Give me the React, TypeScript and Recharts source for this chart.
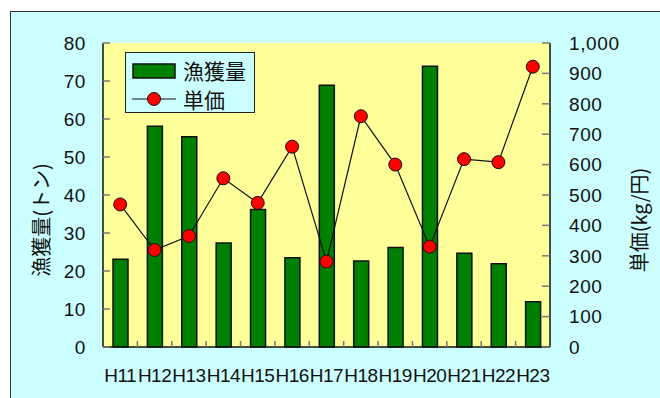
import React from 'react';
import { ComposedChart, Bar, Line, XAxis, YAxis, CartesianGrid, Legend } from 'recharts';

// 年度別の漁獲量（トン）と単価（円/kg）
const years = ['H11', 'H12', 'H13', 'H14', 'H15', 'H16', 'H17', 'H18', 'H19', 'H20', 'H21', 'H22', 'H23'];
const catchTons = [23.1, 58.1, 55.3, 27.4, 36.2, 23.5, 68.9, 22.6, 26.2, 73.9, 24.7, 21.9, 11.9];
const unitPrice = [469, 319, 365, 555, 474, 659, 281, 759, 600, 330, 618, 608, 922];
const leftTicks = [0, 10, 20, 30, 40, 50, 60, 70, 80];
const rightTicks = [0, 100, 200, 300, 400, 500, 600, 700, 800, 900, 1000];

const data = years.map((year, i) => ({ year, catch: catchTons[i], price: unitPrice[i] }));

const FONT = '"Liberation Sans", Arial, sans-serif';
const JP_FONT = '"Noto Sans CJK JP", sans-serif';
const tickStyle = { fill: '#111', fontSize: 19, fontFamily: FONT };
const X_TICK_MARGIN = 21;

const LegendBox = () => (
  <div
    style={{
      width: 128,
      height: 59,
      background: '#CCFFFF',
      border: '1.5px solid #222',
      fontFamily: JP_FONT,
      fontSize: 21,
      color: '#111',
      position: 'relative',
    }}
  >
    <svg width={50} height={59} style={{ position: 'absolute', left: 0, top: 0 }}>
      <rect x={7} y={11} width={42} height={14} fill="#008000" stroke="#111" strokeWidth={1.5} />
      <line x1={6} y1={46} x2={50} y2={46} stroke="#111" strokeWidth={1.2} />
      <circle cx={28} cy={46} r={6.5} fill="#FF0000" stroke="#111" strokeWidth={1} />
    </svg>
    <div style={{ position: 'absolute', left: 57, top: 2, lineHeight: '30px' }}>漁獲量</div>
    <div style={{ position: 'absolute', left: 57, top: 31, lineHeight: '30px' }}>単価</div>
  </div>
);

// year label at the band centre, short inward tick at the band's left edge
const YearTick = (props: any) => {
  const { x, y, width, index, payload } = props;
  const band = width / years.length;
  const axisY = y - X_TICK_MARGIN;
  return (
    <g>
      {index > 0 && (
        <line x1={x - band / 2} x2={x - band / 2} y1={axisY} y2={axisY - 6} stroke="#777" strokeWidth={1.5} />
      )}
      <text
        x={x}
        y={y}
        textAnchor="middle"
        dominantBaseline="hanging"
        fontFamily={FONT}
        fontSize={19}
        letterSpacing={-0.5}
        fill="#111"
      >
        {payload.value}
      </text>
    </g>
  );
};

const axisTitle = (text: string, dx: number) => (props: any) => {
  const { x, y, height } = props.viewBox;
  const cx = x + dx;
  const cy = y + height / 2 + 25;
  return (
    <text
      x={cx}
      y={cy}
      transform={`rotate(-90 ${cx} ${cy})`}
      textAnchor="middle"
      dominantBaseline="central"
      fontFamily={JP_FONT}
      fontSize={20}
      fill="#111"
    >
      {text}
    </text>
  );
};

export default function App() {
  return (
    <div style={{ position: 'fixed', left: 0, top: 0, width: 660, height: 398, background: '#fff', overflow: 'hidden' }}>
      <div
        style={{
          position: 'absolute',
          left: 10,
          top: 11,
          width: 660,
          height: 398,
          background: '#CCFFFF',
          borderLeft: '1.5px solid #333',
          borderTop: '1.5px solid #333',
        }}
      />
      <div style={{ position: 'absolute', left: 0, top: 0 }}>
        <ComposedChart width={660} height={398} data={data} margin={{ top: 43, right: 0, bottom: 0, left: 0 }}>
          <CartesianGrid horizontal={false} vertical={false} fill="#FFFF99" xAxisId="cat" yAxisId="left" />
          <XAxis
            xAxisId="cat"
            dataKey="year"
            height={51}
            interval={0}
            tickLine={false}
            tickSize={0}
            tickMargin={X_TICK_MARGIN}
            axisLine={{ stroke: '#111', strokeWidth: 1.5 }}
            tick={<YearTick />}
          />
          <XAxis
            xAxisId="top"
            orientation="top"
            dataKey="year"
            height={0}
            tick={false}
            tickLine={false}
            axisLine={{ stroke: '#111', strokeWidth: 1.5 }}
          />
          <YAxis
            yAxisId="left"
            width={103}
            domain={[0, 80]}
            ticks={leftTicks}
            interval={0}
            tickSize={-7}
            tickMargin={24}
            tickLine={{ stroke: '#777', strokeWidth: 1.5 }}
            axisLine={{ stroke: '#111', strokeWidth: 1.5 }}
            tick={{ ...tickStyle, letterSpacing: 0.6 }}
            label={{ content: axisTitle('漁獲量(トン)', 40) }}
          />
          <YAxis
            yAxisId="right"
            orientation="right"
            width={110}
            domain={[0, 1000]}
            ticks={rightTicks}
            interval={0}
            tickSize={-8}
            tickMargin={27}
            tickFormatter={(v: number) => v.toLocaleString('en-US')}
            tickLine={{ stroke: '#777', strokeWidth: 1.5 }}
            axisLine={{ stroke: '#111', strokeWidth: 1.5 }}
            tick={{ ...tickStyle, letterSpacing: 0.6 }}
            label={{ content: axisTitle('単価(kg/円)', 88) }}
          />
          <Legend
            layout="horizontal"
            align="center"
            verticalAlign="middle"
            wrapperStyle={{ position: 'absolute', left: 125, top: 52, width: 'auto' }}
            content={() => <LegendBox />}
          />
          <Bar
            xAxisId="cat"
            yAxisId="left"
            dataKey="catch"
            name="漁獲量"
            barSize={15}
            fill="#008000"
            stroke="#111"
            strokeWidth={1.5}
            isAnimationActive={false}
          />
          <Line
            xAxisId="cat"
            yAxisId="right"
            dataKey="price"
            name="単価"
            type="linear"
            stroke="#111"
            strokeWidth={1.2}
            dot={{ r: 6.5, fill: '#FF0000', stroke: '#111', strokeWidth: 1 }}
            activeDot={false}
            isAnimationActive={false}
          />
        </ComposedChart>
      </div>
    </div>
  );
}
